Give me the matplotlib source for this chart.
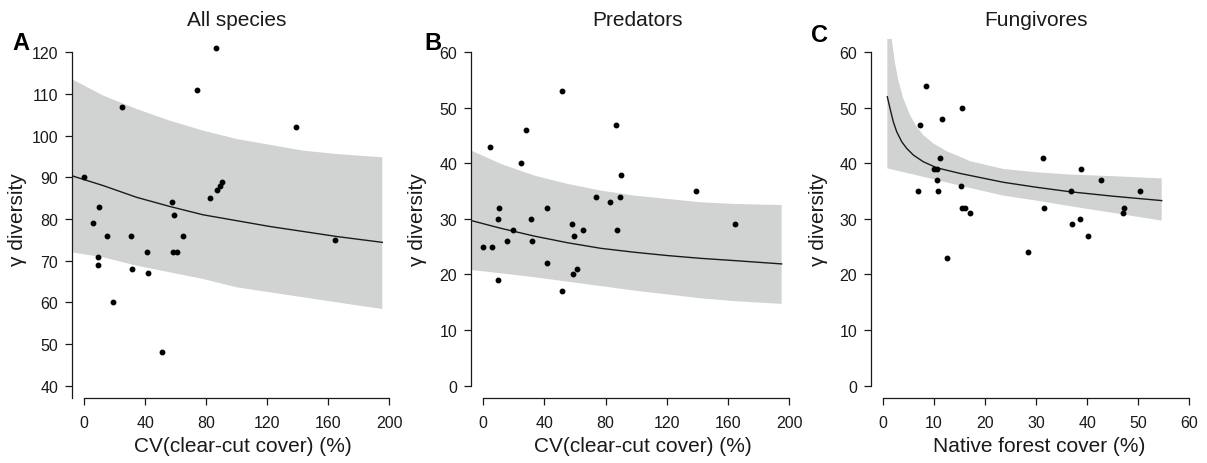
import numpy as np
import matplotlib
matplotlib.use('Agg')
import matplotlib.pyplot as plt

plt.rcParams['font.family'] = ['Liberation Sans', 'DejaVu Sans']

# --- data ---
# A: all species vs CV(clear-cut cover)
cv_a = [0, 5.7, 9, 9, 10, 15.3, 18.8, 24.7, 30.6, 31.4, 41.3, 41.9, 51.1,
        57.9, 59.2, 58.3, 60.7, 64.6, 73.8, 82.3, 86.2, 86.9, 89.3, 90.2,
        138.9, 164.6]
gamma_a = [90, 79, 71, 69, 83, 76, 60, 107, 76, 68, 72, 67, 48,
           84, 81, 72, 72, 76, 111, 85, 121, 87, 88, 89, 102, 75]
fit_x_a = [-8.1, 12.7, 34.5, 56.3, 78.1, 100, 121.8, 143.7, 165.5, 195.4]
fit_a = [90.4, 88.0, 85.2, 83.0, 81.0, 79.6, 78.2, 77.0, 75.8, 74.4]
upper_a = [113.6, 109.6, 106.4, 103.6, 101.2, 99.2, 97.8, 96.4, 95.6, 94.8]
lower_a = [72.0, 70.8, 68.8, 67.2, 65.6, 63.6, 62.4, 61.2, 60.0, 58.4]

# B: predators
cv_b = [0, 4.1, 5.9, 9.4, 9.4, 10.5, 15.7, 19.2, 24.6, 27.9, 30.9, 31.8,
        41.6, 41.6, 51.4, 51.4, 58.2, 58.6, 59, 61.2, 64.9, 73.4, 82.6,
        86.5, 87.1, 89.5, 89.8, 138.8, 164.7]
gamma_b = [25, 43, 25, 30, 19, 32, 26, 28, 40, 46, 30, 26, 32, 22, 53, 17,
           29, 20, 27, 21, 28, 34, 33, 47, 28, 34, 38, 35, 29]
fit_x_b = [-7.8, 11.7, 33.5, 55.3, 77.0, 98.8, 120.5, 142.2, 164.0, 195.0]
fit_b = [29.7, 28.3, 26.9, 25.7, 24.7, 24.0, 23.4, 22.9, 22.5, 21.9]
upper_b = [42.3, 39.9, 37.8, 36.3, 35.1, 34.2, 33.6, 33.0, 32.7, 32.5]
lower_b = [20.8, 20.2, 19.5, 18.7, 17.9, 17.1, 16.4, 15.7, 15.2, 14.7]

# C: fungivores vs native forest cover
forest_c = [6.85, 7.3, 8.4, 10.0, 10.6, 10.7, 10.8, 11.2, 11.7, 12.6, 15.3,
            15.5, 15.5, 16.1, 17.0, 28.4, 31.4, 31.5, 36.8, 37.0, 38.6, 38.8,
            40.2, 42.7, 47.0, 47.2, 50.3]
gamma_c = [35, 47, 54, 39, 39, 37, 35, 41, 48, 23, 36, 50, 32, 32, 31, 24,
           41, 32, 35, 29, 30, 39, 27, 37, 31, 32, 35]
fit_x_c = [0.9, 1.43, 2.07, 2.74, 3.72, 4.7, 6.0, 7.94, 10.6, 15.1, 23.6,
           30.1, 36.6, 45.0, 54.6]
fit_c = [52.0, 49.9, 47.5, 45.7, 43.9, 42.7, 41.5, 40.3, 39.2, 38.2, 36.6,
         35.7, 34.9, 34.1, 33.3]
upper_x_c = [0.9, 1.76, 2.41, 3.05, 4.03, 5.34, 6.65, 7.94, 9.9, 12.5, 15.1,
             17.1, 23.6, 30.1, 36.6, 45.0, 54.6]
upper_c = [66.0, 62.5, 58.0, 55.0, 51.7, 48.7, 46.6, 45.1, 43.6, 42.2, 41.2,
           40.4, 39.0, 38.4, 38.0, 37.7, 37.3]
lower_x_c = [0.9, 6.0, 10.6, 15.1, 23.6, 30.1, 36.6, 45.0, 54.6]
lower_c = [39.1, 38.0, 37.0, 36.0, 34.2, 33.3, 32.3, 31.1, 29.7]

W, H = 1207, 464
fig = plt.figure(figsize=(W / 100, H / 100), dpi=100)

band_col = '#d1d3d3'
ink = '#1a1a1a'


def px_axes(x0, x1, y0, y1):
    return fig.add_axes([x0 / W, 1 - y1 / H, (x1 - x0) / W, (y1 - y0) / H])


panels = [
    dict(rect=(71.7, 389.3, 40, 399.3), xlim=(-8.06, 200), ylim=(36.97, 123.2),
         xt=np.arange(0, 201, 40), yt=np.arange(40, 121, 10),
         xb=(0, 200), yb=(36.97, 120),
         x=cv_a, y=gamma_a, fx=fit_x_a, f=fit_a,
         ux=fit_x_a, up=upper_a, lx=fit_x_a, lo=lower_a,
         title='All species', tx=237, letter='A', ltx=21, lty=44,
         xlabel='CV(clear-cut cover) (%)', xlx=242.5, ylx=18),
    dict(rect=(470.7, 789.3, 40, 399.3), xlim=(-8.2, 200), ylim=(-2.3, 62.4),
         xt=np.arange(0, 201, 40), yt=np.arange(0, 61, 10),
         xb=(0, 200), yb=(0, 60),
         x=cv_b, y=gamma_b, fx=fit_x_b, f=fit_b,
         ux=fit_x_b, up=upper_b, lx=fit_x_b, lo=lower_b,
         title='Predators', tx=637, letter='B', ltx=433, lty=44,
         xlabel='CV(clear-cut cover) (%)', xlx=642.5, ylx=418),
    dict(rect=(870.7, 1189.3, 40, 399.3), xlim=(-2.35, 60), ylim=(-2.3, 62.4),
         xt=np.arange(0, 61, 10), yt=np.arange(0, 61, 10),
         xb=(0, 60), yb=(0, 60),
         x=forest_c, y=gamma_c, fx=fit_x_c, f=fit_c,
         ux=upper_x_c, up=upper_c, lx=lower_x_c, lo=lower_c,
         title='Fungivores', tx=1036, letter='C', ltx=819, lty=36,
         xlabel='Native forest cover (%)', xlx=1039, ylx=818),
]

for p in panels:
    ax = px_axes(*p['rect'])
    # confidence band as a polygon: upper edge left->right, lower edge back
    band_x = list(p['ux']) + list(p['lx'])[::-1]
    band_y = list(p['up']) + list(p['lo'])[::-1]
    ax.fill(band_x, band_y, color=band_col, lw=0, zorder=1)
    ax.plot(p['fx'], p['f'], color=ink, lw=1.0, zorder=2)
    ax.plot(p['x'], p['y'], 'o', color='black', markersize=3.2, zorder=3,
            clip_on=False)
    ax.set_xlim(*p['xlim'])
    ax.set_ylim(*p['ylim'])
    ax.set_xticks(p['xt'])
    ax.set_yticks(p['yt'])
    for s in ['top', 'right']:
        ax.spines[s].set_visible(False)
    ax.spines['left'].set_bounds(*p['yb'])
    ax.spines['bottom'].set_bounds(*p['xb'])
    for s in ['left', 'bottom']:
        ax.spines[s].set_color(ink)
        ax.spines[s].set_linewidth(0.9)
    ax.tick_params(axis='both', colors=ink, labelsize=11.5, length=4.8,
                   width=0.9)
    ax.tick_params(axis='x', pad=7.5)
    ax.tick_params(axis='y', pad=5)

    fig.text(p['tx'] / W, 1 - 21 / H, p['title'], ha='center', va='center',
             fontsize=15, color=ink)
    fig.text(p['ltx'] / W, 1 - p['lty'] / H, p['letter'], ha='center',
             va='center', fontsize=17, fontweight='bold', color='black')
    fig.text(p['xlx'] / W, 1 - 447 / H, p['xlabel'], ha='center',
             va='center', fontsize=15, color=ink)
    fig.text(p['ylx'] / W, 1 - 220 / H, 'γ diversity', ha='center',
             va='center', rotation=90, fontsize=15, color=ink)

fig.savefig('out.png', dpi=100)
